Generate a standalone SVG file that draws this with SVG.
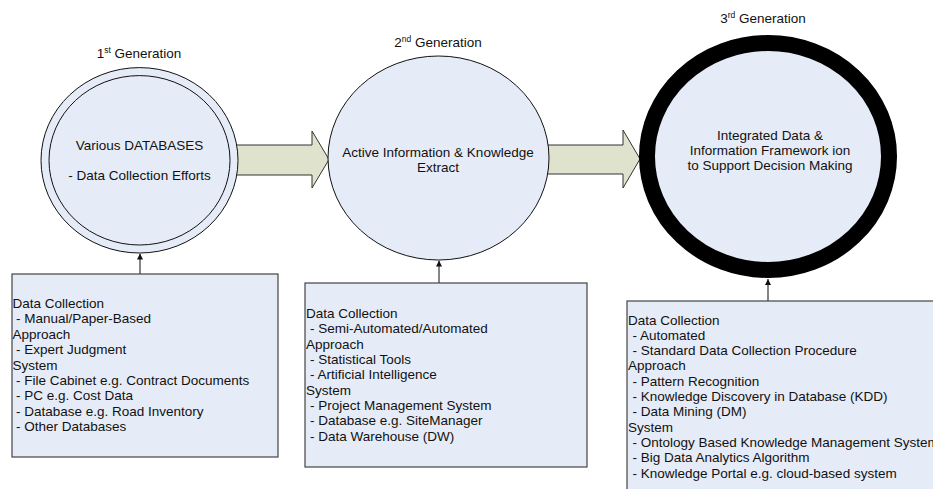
<svg xmlns="http://www.w3.org/2000/svg" width="933" height="489" viewBox="0 0 933 489">
<defs>
<style>
text{font-family:"Liberation Sans",Arial,sans-serif;font-size:13.5px;fill:#111}
.c{text-anchor:middle}
.sup{font-size:8.5px}
.node{fill:#e6ecf7;stroke:#111;stroke-width:1}
.box{fill:#e6ecf7;stroke:#444;stroke-width:1.2}
.big{fill:#dfe3cd;stroke:#333;stroke-width:1}
.conn{stroke:#444;stroke-width:1.3;fill:none}
</style>
<marker id="ah" viewBox="0 0 10 10" refX="10" refY="5" markerWidth="6" markerHeight="6" markerUnits="userSpaceOnUse" orient="auto">
<path d="M0,0 L10,5 L0,10 z" fill="#111"/>
</marker>
</defs>
<rect width="933" height="489" fill="#fff"/>
<g id="flow-arrows">
<polygon class="big" points="230,145 312,145 312,131 329,159.5 312,188 312,175 230,175"/>
<polygon class="big" points="540,145 623,145 623,130 640,159 623,188 623,174 540,174"/>
</g>
<g id="gen1">
<text class="c" x="139" y="57.5">1<tspan class="sup" dy="-5">st</tspan><tspan dy="5"> Generation</tspan></text>
<ellipse class="node" cx="139.5" cy="160.3" rx="98.5" ry="92.7"/>
<ellipse class="node" cx="139.5" cy="160.3" rx="90.5" ry="84.7"/>
<text class="c" x="139.5" y="150">Various DATABASES</text>
<text class="c" x="139.5" y="180">- Data Collection Efforts</text>
</g>
<g id="gen2">
<text class="c" x="438" y="46.5">2<tspan class="sup" dy="-5">nd</tspan><tspan dy="5"> Generation</tspan></text>
<ellipse class="node" cx="438.5" cy="158" rx="110.5" ry="102"/>
<text class="c" x="438" y="156.5">Active Information &amp; Knowledge</text>
<text class="c" x="438" y="171.5">Extract</text>
</g>
<g id="gen3">
<text class="c" x="763" y="23">3<tspan class="sup" dy="-5">rd</tspan><tspan dy="5"> Generation</tspan></text>
<ellipse cx="768" cy="156.5" rx="121" ry="113.5" fill="#e6ecf7" stroke="#000" stroke-width="16"/>
<text class="c" x="770" y="139.7">Integrated Data &amp;</text>
<text class="c" x="770" y="154.7">Information Framework ion</text>
<text class="c" x="770" y="169.7">to Support Decision Making</text>
</g>
<g id="box1">
<rect class="box" x="12" y="274" width="266" height="183"/>
<text x="12.5" y="308">Data Collection</text>
<text x="16" y="323.4">- Manual/Paper-Based</text>
<text x="12.5" y="338.8">Approach</text>
<text x="16" y="354.2">- Expert Judgment</text>
<text x="12.5" y="369.6">System</text>
<text x="16" y="385">- File Cabinet e.g. Contract Documents</text>
<text x="16" y="400.4">- PC e.g. Cost Data</text>
<text x="16" y="415.8">- Database e.g. Road Inventory</text>
<text x="16" y="431.2">- Other Databases</text>
</g>
<g id="box2">
<rect class="box" x="305" y="283" width="282" height="184"/>
<text x="306" y="318">Data Collection</text>
<text x="310" y="333.3">- Semi-Automated/Automated</text>
<text x="306" y="348.6">Approach</text>
<text x="310" y="364">- Statistical Tools</text>
<text x="310" y="379.3">- Artificial Intelligence</text>
<text x="306" y="394.6">System</text>
<text x="310" y="410">- Project Management System</text>
<text x="310" y="425.3">- Database e.g. SiteManager</text>
<text x="310" y="440.6">- Data Warehouse (DW)</text>
</g>
<g id="box3">
<rect class="box" x="627" y="301" width="320" height="200"/>
<text x="628" y="324.5">Data Collection</text>
<text x="632.5" y="339.8">- Automated</text>
<text x="632.5" y="355.1">- Standard Data Collection Procedure</text>
<text x="628" y="370.4">Approach</text>
<text x="632.5" y="385.7">- Pattern Recognition</text>
<text x="632.5" y="401">- Knowledge Discovery in Database (KDD)</text>
<text x="632.5" y="416.3">- Data Mining (DM)</text>
<text x="628" y="431.6">System</text>
<text x="632.5" y="446.9">- Ontology Based Knowledge Management System</text>
<text x="632.5" y="462.2">- Big Data Analytics Algorithm</text>
<text x="632.5" y="477.5">- Knowledge Portal e.g. cloud-based system</text>
</g>
<g id="connectors">
<line class="conn" x1="140" y1="274" x2="140" y2="253.5" marker-end="url(#ah)"/>
<line class="conn" x1="439" y1="283" x2="439" y2="260.5" marker-end="url(#ah)"/>
<line class="conn" x1="768" y1="301" x2="768" y2="279" marker-end="url(#ah)"/>
</g>
</svg>
